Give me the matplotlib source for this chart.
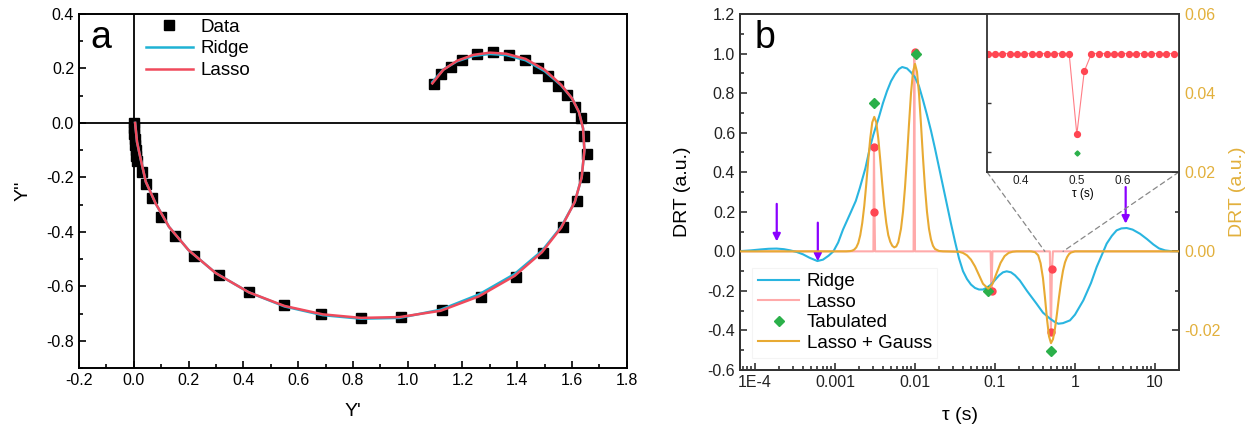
import numpy as np
import matplotlib
matplotlib.use('Agg')
import matplotlib.pyplot as plt
from matplotlib.ticker import MultipleLocator, FixedLocator, FixedFormatter, LogLocator, NullFormatter, FormatStrFormatter
from matplotlib.patches import ConnectionPatch

plt.rcParams['font.family'] = ['Liberation Sans', 'DejaVu Sans']

# ---- panel a: Nyquist-like data ----
data_re = [0.000, 0.001, 0.002, 0.003, 0.005, 0.007, 0.009, 0.013, 0.032, 0.044, 0.068, 0.101,
           0.150, 0.220, 0.311, 0.421, 0.549, 0.685, 0.828, 0.974, 1.127, 1.266, 1.394, 1.494,
           1.567, 1.619, 1.644, 1.656, 1.644, 1.631, 1.609, 1.583, 1.549, 1.513, 1.476, 1.427,
           1.370, 1.313, 1.252, 1.200, 1.157, 1.123, 1.096]
data_im = [0.000, -0.020, -0.040, -0.060, -0.080, -0.100, -0.120, -0.140, -0.179, -0.224, -0.277, -0.344,
           -0.415, -0.488, -0.559, -0.621, -0.670, -0.702, -0.716, -0.713, -0.688, -0.639, -0.566, -0.476,
           -0.382, -0.287, -0.198, -0.114, -0.048, 0.017, 0.060, 0.103, 0.136, 0.173, 0.201, 0.232,
           0.250, 0.259, 0.254, 0.232, 0.207, 0.180, 0.144]

fit_re = [0.005, 0.012, 0.026, 0.044, 0.080, 0.129, 0.200, 0.300, 0.420, 0.550, 0.690, 0.830, 0.970,
          1.120, 1.260, 1.390, 1.490, 1.560, 1.610, 1.635, 1.645, 1.640, 1.625, 1.600, 1.560, 1.500,
          1.430, 1.360, 1.300, 1.240, 1.180, 1.130, 1.090]
lasso_im = [0.000, -0.070, -0.136, -0.216, -0.296, -0.382, -0.467, -0.552, -0.622, -0.672, -0.703, -0.716, -0.713,
            -0.690, -0.637, -0.562, -0.475, -0.385, -0.290, -0.200, -0.100, -0.020, 0.040, 0.090, 0.140, 0.195,
            0.235, 0.254, 0.258, 0.250, 0.228, 0.195, 0.145]
ridge_im = [0.000, -0.070, -0.136, -0.216, -0.296, -0.382, -0.467, -0.552, -0.622, -0.674, -0.706, -0.719, -0.716,
            -0.686, -0.630, -0.555, -0.470, -0.382, -0.290, -0.200, -0.100, -0.020, 0.040, 0.090, 0.138, 0.190,
            0.230, 0.249, 0.253, 0.246, 0.226, 0.196, 0.150]

# ---- panel b: DRT (tau given as log10 values) ----
ridge_logtau = [-4.19, -4.05, -3.92, -3.83, -3.73, -3.64, -3.56, -3.48, -3.40, -3.32, -3.22, -3.15, -3.08,
                -3.02, -2.96, -2.90, -2.85, -2.80, -2.74, -2.69, -2.62, -2.56, -2.52, -2.45, -2.40, -2.35,
                -2.30, -2.25, -2.20, -2.16, -2.10, -2.05, -2.00, -1.95, -1.90, -1.85, -1.80, -1.75, -1.70,
                -1.65, -1.60, -1.55, -1.50, -1.45, -1.40, -1.35, -1.30, -1.25, -1.20, -1.15, -1.10, -1.05,
                -1.00, -0.95, -0.90, -0.854, -0.80, -0.75, -0.69, -0.60, -0.48, -0.40, -0.3125, -0.25,
                -0.208, -0.15, -0.0625, 0.0, 0.104, 0.20, 0.271, 0.355, 0.396, 0.46, 0.52, 0.58, 0.646,
                0.72, 0.8125, 0.90, 0.979, 1.05, 1.125, 1.20, 1.30]
ridge_val = [0.001, 0.005, 0.010, 0.013, 0.014, 0.011, 0.005, -0.003, -0.015, -0.032, -0.049, -0.042, -0.022,
             0.000, 0.045, 0.110, 0.155, 0.200, 0.255, 0.320, 0.420, 0.530, 0.590, 0.680, 0.750, 0.810,
             0.860, 0.895, 0.922, 0.932, 0.925, 0.905, 0.880, 0.835, 0.765, 0.690, 0.610, 0.520, 0.425,
             0.330, 0.235, 0.140, 0.050, -0.035, -0.100, -0.140, -0.168, -0.185, -0.193, -0.193, -0.183, -0.168,
             -0.145, -0.122, -0.106, -0.101, -0.106, -0.121, -0.147, -0.200, -0.265, -0.310, -0.340, -0.358,
             -0.366, -0.363, -0.349, -0.320, -0.248, -0.160, -0.079, 0.000, 0.039, 0.078, 0.106, 0.116, 0.118,
             0.110, 0.089, 0.062, 0.035, 0.015, 0.005, 0.001, 0.000]

lasso_tau = [6.5e-5, 3.02e-3, 3.07e-3, 3.12e-3, 3.17e-3, 9.6e-3, 9.8e-3, 1.0e-2, 8.8e-2, 9.05e-2, 9.3e-2,
             0.485, 0.500, 0.515, 0.530, 20.0]
lasso_val = [0.0, 0.0, 0.53, 0.20, 0.0, 0.0, 1.01, 0.0, 0.0, -0.20, 0.0,
             0.0, -0.41, -0.09, 0.0, 0.0]

lasso_pts_tau = [3.1e-3, 3.1e-3, 1.0e-2, 9.05e-2, 0.500, 0.515]
lasso_pts_val = [0.53, 0.20, 1.01, -0.20, -0.41, -0.09]

tab_tau = [3.1e-3, 1.02e-2, 8.2e-2, 0.500]
tab_val = [0.752, 1.00, -0.202, -0.504]

# Lasso + Gauss curve, right axis units
gauss_logtau = [-4.19, -2.86, -2.809, -2.784, -2.759, -2.734, -2.709, -2.684, -2.659, -2.634, -2.609, -2.584,
                -2.559, -2.534, -2.509, -2.484, -2.459, -2.434, -2.409, -2.384, -2.359, -2.334, -2.309, -2.284,
                -2.259, -2.234, -2.209, -2.175, -2.15, -2.125, -2.10, -2.075, -2.05, -2.025, -2.0, -1.975,
                -1.95, -1.925, -1.90, -1.875, -1.85, -1.825, -1.80, -1.775, -1.75, -1.70, -1.65,
                -1.45, -1.40, -1.35, -1.30, -1.25, -1.20, -1.15, -1.084, -1.03, -0.98, -0.93, -0.88, -0.83,
                -0.78, -0.73, -0.55, -0.50, -0.46, -0.43, -0.40, -0.375, -0.35, -0.325, -0.30, -0.275, -0.25,
                -0.225, -0.20, -0.175, -0.15, -0.125, -0.10, -0.075, -0.05, 0.0, 1.30]
gauss_val = [0.0, 0.0, 0.00007, 0.00018, 0.00045, 0.0010, 0.0021, 0.0041, 0.0072, 0.0115, 0.0170, 0.0231,
             0.0286, 0.0326, 0.0340, 0.0326, 0.0286, 0.0231, 0.0170, 0.0115, 0.0072, 0.0041, 0.0024, 0.0014,
             0.0010, 0.00125, 0.0023, 0.0057, 0.0100, 0.0161, 0.0237, 0.0321, 0.0399, 0.0454, 0.0474, 0.0454,
             0.0399, 0.0321, 0.0237, 0.0161, 0.0100, 0.0057, 0.0030, 0.0014, 0.0006, 0.0001, 0.0,
             -0.0001, -0.0004, -0.0010, -0.0021, -0.0038, -0.0060, -0.0082, -0.00945, -0.0082, -0.0055, -0.0029,
             -0.0012, -0.0004, -0.0001, 0.0, 0.0, -0.0002, -0.0010, -0.0030, -0.0068, -0.0117, -0.0171, -0.0215,
             -0.0232, -0.0222, -0.0195, -0.0157, -0.0116, -0.0079, -0.0049, -0.0028, -0.0015, -0.0007, -0.0003,
             0.0, 0.0]

arrow_tau = [1.87e-4, 6.1e-4, 4.3]
arrow_top = [0.24, 0.145, 0.325]
arrow_tip = [0.05, -0.05, 0.14]

# inset (zoom on tau ~ 0.5 s)
inset_tau = [0.351, 0.361, 0.372, 0.383, 0.395, 0.406, 0.419, 0.431, 0.444, 0.457, 0.471, 0.485,
             0.500, 0.515, 0.530, 0.546, 0.563, 0.580, 0.597, 0.615, 0.633, 0.652, 0.672, 0.692,
             0.713, 0.734]
inset_val = [0.0] * 12 + [-0.41, -0.09] + [0.0] * 12

xtick_vals = [1e-4, 1e-3, 1e-2, 1e-1, 1, 10]
xtick_labels = ['1E-4', '0.001', '0.01', '0.1', '1', '10']

c_ridge = '#29b5e0'
c_lasso_line = '#ffaaaa'
c_lasso_pt = '#ff4652'
c_tab = '#2bb04a'
c_gauss = '#e8aa33'
c_arrow = '#8a00ff'

fig = plt.figure(figsize=(12.53, 4.30), dpi=100)

# ================= panel a =================
axa = fig.add_axes([0.0630, 0.1442, 0.4373, 0.8233])
axa.axhline(0, color='black', lw=1.3, zorder=1)
axa.axvline(0, color='black', lw=1.3, zorder=1)
axa.plot(data_re, data_im, 's', color='black', ms=6.8, label='Data', zorder=2)
axa.plot(fit_re, ridge_im, '-', color='#1fb2d4', lw=1.8, label='Ridge', zorder=3)
axa.plot(fit_re, lasso_im, '-', color='#f04a5c', lw=1.8, label='Lasso', zorder=4)
axa.set_xlim(-0.2, 1.8)
axa.set_ylim(-0.9, 0.4)
axa.xaxis.set_major_locator(MultipleLocator(0.2))
axa.xaxis.set_minor_locator(MultipleLocator(0.1))
axa.yaxis.set_major_locator(MultipleLocator(0.2))
axa.yaxis.set_minor_locator(MultipleLocator(0.1))
axa.xaxis.set_major_formatter(FormatStrFormatter('%.1f'))
axa.yaxis.set_major_formatter(FormatStrFormatter('%.1f'))
axa.tick_params(which='both', direction='in', top=False, right=False, labelsize=11.5, width=1.2, color='black')
axa.tick_params(which='major', length=5)
axa.tick_params(which='minor', length=3)
for s in axa.spines.values():
    s.set_linewidth(1.4)
axa.set_xlabel("Y'", fontsize=14, labelpad=11)
axa.set_ylabel("Y''", fontsize=14, labelpad=11)
axa.text(0.02, 0.905, 'a', transform=axa.transAxes, fontsize=27, va='baseline')
axa.legend(loc='upper left', bbox_to_anchor=(0.115, 0.998), fontsize=13.5, frameon=False,
           handlelength=2.5, handletextpad=0.4, labelspacing=0.25, borderaxespad=0, borderpad=0.2)

# ================= panel b =================
axb = fig.add_axes([0.5906, 0.1395, 0.3504, 0.8279])
axb.set_xscale('log')
axb.plot(10 ** np.array(ridge_logtau), ridge_val, '-', color=c_ridge, lw=1.5, label='Ridge', zorder=3)
axb.plot(lasso_tau, lasso_val, '-', color=c_lasso_line, lw=1.5, label='Lasso', zorder=2)
axb.plot(lasso_pts_tau, lasso_pts_val, 'o', color=c_lasso_pt, ms=5, zorder=4)
axb.plot(tab_tau, tab_val, 'D', color=c_tab, ms=4.8, label='Tabulated', zorder=5, lw=0)
for t, y0, y1 in zip(arrow_tau, arrow_top, arrow_tip):
    axb.annotate('', xy=(t, y1), xytext=(t, y0),
                 arrowprops=dict(arrowstyle='-|>', color=c_arrow, lw=1.6, mutation_scale=11,
                                 shrinkA=0, shrinkB=0))
axb.set_xlim(6.5e-5, 20)
axb.set_ylim(-0.6, 1.2)
axb.xaxis.set_major_locator(FixedLocator(xtick_vals))
axb.xaxis.set_major_formatter(FixedFormatter(xtick_labels))
axb.xaxis.set_minor_locator(LogLocator(base=10, subs=np.arange(2, 10), numticks=20))
axb.xaxis.set_minor_formatter(NullFormatter())
axb.yaxis.set_major_locator(MultipleLocator(0.2))
axb.yaxis.set_minor_locator(MultipleLocator(0.1))
axb.yaxis.set_major_formatter(FormatStrFormatter('%.1f'))
axb.tick_params(which='both', direction='in', top=False, right=False, labelsize=11.5,
                width=1.2, color='#333333', labelcolor='#222222')
axb.tick_params(which='major', length=5)
axb.tick_params(which='minor', length=3)
for s in axb.spines.values():
    s.set_linewidth(1.4)
    s.set_color('#333333')
axb.set_xlabel('τ (s)', fontsize=14, labelpad=12)
axb.set_ylabel('DRT (a.u.)', fontsize=14, labelpad=12)
axb.text(0.034, 0.905, 'b', transform=axb.transAxes, fontsize=27, va='baseline')

axr = axb.twinx()
axr.plot(10 ** np.array(gauss_logtau), gauss_val, '-', color=c_gauss, lw=1.5, label='Lasso + Gauss', zorder=3)
axr.set_ylim(-0.03, 0.06)
axr.yaxis.set_major_locator(MultipleLocator(0.02))
axr.yaxis.set_minor_locator(MultipleLocator(0.01))
axr.yaxis.set_major_formatter(FormatStrFormatter('%.2f'))
axr.tick_params(which='both', direction='in', labelsize=11.5, width=1.2, color='#333333',
                labelcolor='#e2b03c')
axr.tick_params(which='major', length=5)
axr.tick_params(which='minor', length=3)
for s in axr.spines.values():
    s.set_linewidth(1.4)
    s.set_color('#333333')
axr.set_ylabel('DRT (a.u.)', fontsize=14, color='#e2b03c', labelpad=6)

h1, l1 = axb.get_legend_handles_labels()
h2, l2 = axr.get_legend_handles_labels()
leg = axr.legend(h1 + h2, l1 + l2, loc='lower left', bbox_to_anchor=(0.028, 0.035), fontsize=13.5,
                 frameon=True, fancybox=False, edgecolor='#f2f2f2', handlelength=2.2,
                 handletextpad=0.4, labelspacing=0.18, borderaxespad=0, borderpad=0.3)
leg.get_frame().set_linewidth(0.8)

# inset
axi = fig.add_axes([0.7877, 0.6000, 0.1532, 0.3674], zorder=10)
axi.set_xscale('log')
axi.plot(inset_tau, inset_val, '-', color=c_lasso_pt, lw=0.8, alpha=0.7)
axi.plot(inset_tau, inset_val, 'o', color=c_lasso_pt, ms=4.2)
axi.plot([tab_tau[3]], [tab_val[3]], 'D', color=c_tab, ms=2.6)
axi.set_xlim(0.35, 0.75)
axi.set_ylim(-0.6, 0.2)
axi.xaxis.set_major_locator(FixedLocator([0.4, 0.5, 0.6]))
axi.xaxis.set_major_formatter(FixedFormatter(['0.4', '0.5', '0.6']))
axi.xaxis.set_minor_locator(FixedLocator([]))
axi.yaxis.set_major_locator(FixedLocator([-0.5, -0.25, 0.0]))
axi.yaxis.set_major_formatter(NullFormatter())
axi.tick_params(which='both', direction='in', labelsize=8.5, length=3, width=1.0,
                color='#333333', labelcolor='#222222', pad=2)
axi.tick_params(axis='x', length=0)
for s in axi.spines.values():
    s.set_linewidth(1.3)
    s.set_color('#333333')
axi.set_xlabel('τ (s)', fontsize=8.5, labelpad=1)

for xa, tb in [((0, 0), 0.42), ((1, 0), 0.71)]:
    cp = ConnectionPatch(xyA=xa, coordsA=axi.transAxes, xyB=(tb, 0.0), coordsB=axb.transData,
                         color='#888888', lw=0.9, ls=(0, (4, 3)), zorder=9)
    fig.add_artist(cp)

fig.savefig('out.png', dpi=100)
